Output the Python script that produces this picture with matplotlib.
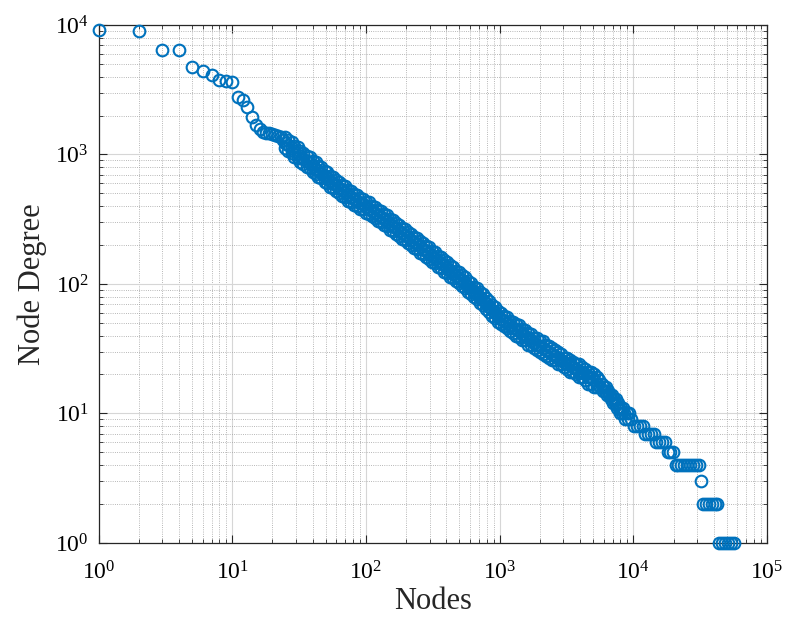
import matplotlib
matplotlib.use('Agg')
import matplotlib.pyplot as plt

# node rank vs degree
early_nodes = list(range(1, 25))
early_degree = [9150, 9000, 6400, 6400, 4760, 4410, 4110, 3760, 3720, 3650,
                2760, 2630, 2340, 1950, 1690, 1580, 1500, 1470, 1460, 1450,
                1420, 1390, 1370, 1300]

# the dense band: ranks, with the outer edge, the middle and an inner edge of the band
band_nodes = [25, 26, 28, 29, 31, 32, 34, 36, 38, 40,
              42, 44, 46, 49, 51, 54, 57, 60, 63, 66,
              70, 74, 77, 82, 86, 90, 95, 100, 106, 111,
              117, 123, 130, 137, 144, 152, 160, 168, 177, 186,
              196, 207, 218, 229, 241, 254, 268, 282, 297, 312,
              329, 346, 365, 384, 405, 426, 449, 472, 497, 524,
              551, 581, 612, 644, 678, 714, 752, 792, 834, 878,
              925, 973, 1025, 1080, 1137, 1197, 1261, 1327, 1398, 1472,
              1550, 1633, 1719, 1810, 1906, 2007, 2113, 2226, 2344, 2468,
              2599, 2737, 2882, 3035, 3195, 3365, 3543, 3731, 3929, 4137,
              4357, 4587, 4831, 5087, 5358]
band_edge_degree = [1368, 1055, 1245, 960, 1134, 874, 1034, 801, 948, 732,
                    868, 671, 795, 615, 730, 564, 669, 519, 616, 478,
                    568, 440, 525, 409, 490, 382, 457, 356, 426, 332,
                    396, 308, 368, 286, 340, 263, 312, 242, 287, 223,
                    265, 206, 245, 190, 226, 175, 208, 161, 192, 148,
                    176, 136, 161, 124, 147, 114, 135, 105, 124, 96,
                    113, 87, 102, 79, 93, 71, 83, 64, 74, 57,
                    66, 51, 60, 47, 56, 43, 51, 40, 48, 37,
                    44, 34, 41, 32, 38, 30, 36, 28, 33, 26,
                    31, 24, 29, 23, 27, 21, 25, 20, 24, 19,
                    22, 17, 21, 16, 19]
band_mid_degree = [1229, 1174, 1119, 1068, 1020, 972, 930, 891, 852, 815,
                   779, 747, 714, 685, 656, 627, 601, 577, 554, 532,
                   511, 490, 472, 455, 440, 425, 411, 396, 382, 369,
                   356, 343, 331, 318, 305, 293, 280, 269, 258, 248,
                   238, 229, 220, 211, 203, 195, 187, 180, 172, 165,
                   158, 151, 145, 139, 132, 127, 121, 116, 111, 107,
                   102, 97, 92, 87, 83, 79, 75, 71, 67, 63,
                   60, 57, 54, 52, 50, 48, 46, 45, 43, 41,
                   40, 38, 37, 35, 34, 33, 32, 31, 30, 29,
                   28, 27, 26, 25, 24, 24, 23, 22, 21, 21,
                   20, 19, 19, 18, 17]
band_inner_degree = [1124, 1283, 1024, 1167, 933, 1062, 851, 974, 780, 891,
                     713, 816, 653, 749, 600, 685, 550, 631, 507, 581,
                     468, 536, 432, 497, 403, 465, 376, 433, 349, 403,
                     326, 375, 303, 348, 279, 320, 256, 294, 236, 271,
                     218, 250, 201, 231, 186, 213, 171, 197, 157, 180,
                     145, 165, 133, 152, 121, 139, 111, 127, 102, 117,
                     93, 106, 84, 95, 76, 86, 69, 78, 61, 69,
                     55, 62, 49, 57, 46, 52, 42, 49, 39, 45,
                     37, 42, 34, 38, 31, 36, 29, 34, 27, 32,
                     26, 30, 24, 27, 22, 26, 21, 24, 19, 23,
                     18, 21, 17, 20, 16]

tail_nodes = [5635, 5933, 6142, 6358, 6579, 6811, 7050, 7298, 7553, 7816,
              7953, 8233, 8519, 8667, 9129, 9612, 10120, 10660, 11220, 11820,
              12230, 12880, 13570, 14290, 14790, 15570, 16400, 17270, 18180, 18820,
              19820, 20860, 21600, 22740, 23950, 25210, 26560, 27960, 29440, 31000,
              32090, 33210, 34980, 36830, 38780, 40840, 42270, 43750, 46070, 48530,
              51090, 53800, 56660,
              5500, 5800, 6050, 6250, 6480, 6700, 6950, 7180, 7420, 7690,
              8100, 8380, 8900, 9350]
tail_degree = [16, 15, 15, 14, 14, 13, 12, 12, 11, 11,
               10, 10, 10, 9, 9, 9, 8, 8, 8, 8,
               7, 7, 7, 7, 6, 6, 6, 6, 5, 5,
               5, 4, 4, 4, 4, 4, 4, 4, 4, 4,
               3, 2, 2, 2, 2, 2, 2, 1, 1, 1,
               1, 1, 1,
               18, 17, 16, 16, 15, 14, 14, 13, 13, 12,
               11, 11, 10, 10]

nodes = early_nodes + band_nodes * 3 + tail_nodes
degree = early_degree + band_edge_degree + band_mid_degree + band_inner_degree + tail_degree

plt.rcParams['font.family'] = ['Liberation Serif', 'DejaVu Serif']
plt.rcParams['mathtext.default'] = 'regular'

fig = plt.figure(figsize=(7.87, 6.28), dpi=100)
ax = fig.add_axes([0.1252, 0.1354, 0.8494, 0.8248])

ax.loglog(nodes, degree, 'o', mfc='none', mec='#0072BD', ms=8.4, mew=1.5,
          clip_on=False, zorder=3)
ax.set_xlim(1, 1e5)
ax.set_ylim(1, 1e4)

# matlab style grid
ax.set_axisbelow(True)
ax.grid(True, which='major', color='#d6d6d6', lw=0.8, ls='-')
ax.grid(True, which='minor', color='#a0a0a0', lw=0.6, ls=':')
ax.tick_params(which='both', direction='in', top=True, right=True, color='#262626')
ax.tick_params(axis='y', which='major', length=6, labelsize=17, pad=7)
ax.tick_params(axis='x', which='major', length=6, labelsize=17, pad=13)
ax.tick_params(which='minor', length=3)
for s in ax.spines.values():
    s.set_color('#262626')
    s.set_linewidth(0.9)

ax.set_xlabel('Nodes', fontsize=22, color='#262626', labelpad=2)
ax.set_ylabel('Node Degree', fontsize=22, color='#262626', labelpad=6)

fig.savefig('out.png', dpi=100)
